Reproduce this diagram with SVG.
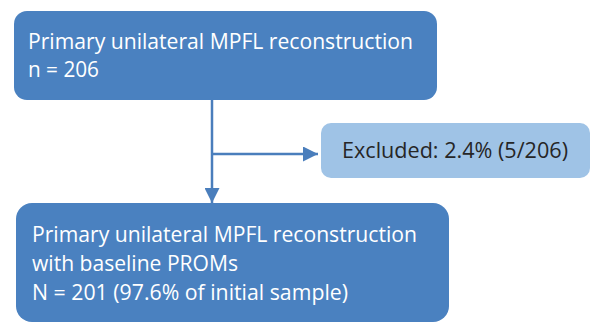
<svg xmlns="http://www.w3.org/2000/svg" width="591" height="322" viewBox="0 0 591 322">
  <defs>
    <style>
      .box { fill: #4a81c0; }
      .side { fill: #9fc3e6; }
      .label { font-family: "Open Sans", "Noto Sans", sans-serif; font-size: 22px; fill: #ffffff; }
      .dark { fill: #262626; }
      .link { stroke: #4a7ebc; stroke-width: 2.5; fill: none; }
    </style>
    <marker id="arrow" viewBox="0 0 10 10" refX="10" refY="5" markerWidth="6" markerHeight="6" markerUnits="strokeWidth" orient="auto">
      <path d="M0,0 L10,5 L0,10 z" fill="#4a7ebc"/>
    </marker>
  </defs>

  <g id="connectors">
    <line class="link" x1="212" y1="100" x2="212" y2="203" marker-end="url(#arrow)"/>
    <line class="link" x1="212" y1="154" x2="318" y2="154" marker-end="url(#arrow)"/>
  </g>

  <g id="initial">
    <rect class="box" x="14" y="11" width="423" height="89" rx="13"/>
    <text class="label" x="28" y="49" textLength="385" lengthAdjust="spacingAndGlyphs">Primary unilateral MPFL reconstruction</text>
    <text class="label" x="28" y="77" textLength="71" lengthAdjust="spacingAndGlyphs">n = 206</text>
  </g>

  <g id="excluded">
    <rect class="side" x="321" y="123" width="269" height="55" rx="10"/>
    <text class="label dark" x="342" y="158" textLength="226" lengthAdjust="spacingAndGlyphs">Excluded: 2.4% (5/206)</text>
  </g>

  <g id="final">
    <rect class="box" x="16" y="203" width="433" height="119" rx="16"/>
    <text class="label" x="32" y="242" textLength="385" lengthAdjust="spacingAndGlyphs">Primary unilateral MPFL reconstruction</text>
    <text class="label" x="32" y="271" textLength="206" lengthAdjust="spacingAndGlyphs">with baseline PROMs</text>
    <text class="label" x="32" y="300" textLength="316" lengthAdjust="spacingAndGlyphs">N = 201 (97.6% of initial sample)</text>
  </g>
</svg>
